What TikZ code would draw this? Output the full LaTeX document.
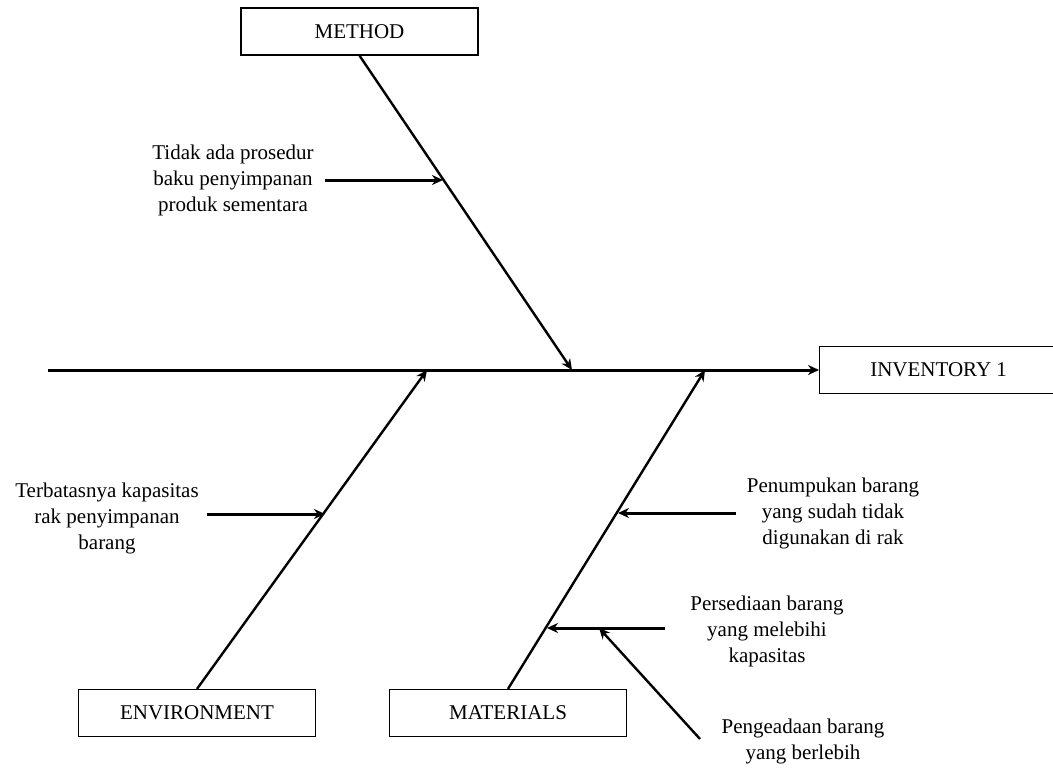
\documentclass[tikz,border=0pt]{standalone}
\usepackage{fontspec}
\setmainfont{Liberation Serif}
\usetikzlibrary{arrows.meta}
\begin{document}
\begin{tikzpicture}[x=1pt,y=-1pt,
  font=\fontsize{21}{26}\selectfont,
  catbox/.style={draw, line width=1.2pt, rectangle, minimum width=237pt, minimum height=47pt, inner sep=0pt},
  cause/.style={align=center, inner sep=0pt},
  spineline/.style={line width=3pt, -{Stealth[length=11pt,width=10pt]}},
  boneline/.style={line width=2.4pt, -{Stealth[length=11pt,width=10pt]}},
  subline/.style={line width=3pt, -{Stealth[length=11pt,width=10pt]}}]
\useasboundingbox (0,0) rectangle (1053,769);

% category boxes and effect
\node[catbox] (method) at (359.5,31.5) {METHOD};
\node[catbox] (env) at (197,713) {ENVIRONMENT};
\node[catbox] (mat) at (508,713) {MATERIALS};
\node[catbox, minimum width=238pt, anchor=west] (inv) at (819,370) {INVENTORY 1};

% spine
\coordinate (tail) at (48,370);
\draw[spineline] (tail) -- (inv.west);

% main bones meeting the spine
\coordinate (mtip) at (572,370);
\coordinate (etip) at (427,370);
\coordinate (atip) at (705,370);
\draw[boneline] (method.south) -- (mtip);
\draw[boneline] (env.north) -- (etip);
\draw[boneline] (mat.north) -- (atip);

% causes
\node[cause] (c1) at (233,180) {Tidak ada prosedur\\baku penyimpanan\\produk sementara};
\coordinate (c1s) at (325,180);
\coordinate (c1t) at (443,180);
\draw[subline] (c1s) -- (c1t);

\node[cause] (c2) at (107,518) {Terbatasnya kapasitas\\rak penyimpanan\\barang};
\coordinate (c2s) at (207,514);
\coordinate (c2t) at (325,514);
\draw[subline] (c2s) -- (c2t);

\node[cause] (c3) at (833,513) {Penumpukan barang\\yang sudah tidak\\digunakan di rak};
\coordinate (c3s) at (736,513);
\coordinate (c3t) at (618,513);
\draw[subline] (c3s) -- (c3t);

\node[cause] (c4) at (767,631) {Persediaan barang\\yang melebihi\\kapasitas};
\coordinate (c4s) at (665,628);
\coordinate (c4t) at (547,628);
\draw[subline] (c4s) -- (c4t);

\node[cause] (c5) at (803,741) {Pengeadaan barang\\yang berlebih};
\coordinate (c5s) at (700,739);
\coordinate (c5t) at (599,628);
\draw[boneline] (c5s) -- (c5t);
\end{tikzpicture}
\end{document}
